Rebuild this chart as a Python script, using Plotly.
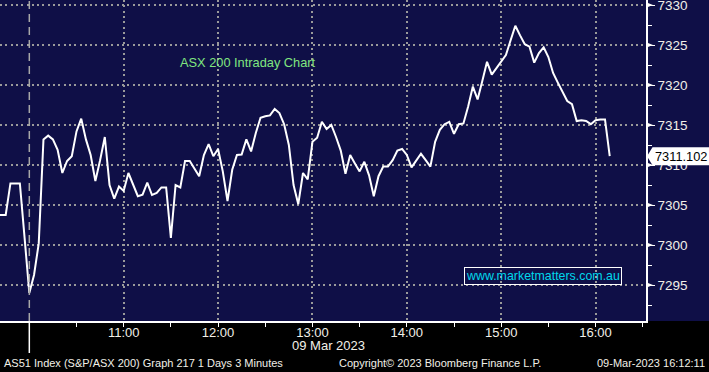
import plotly.graph_objects as go
import pandas as pd

# ---------------- data ----------------
start_time = "2023-03-09 09:39"
step = "3min"
index_values = [
    # pre-open
    7303.75, 7303.75, 7303.75, 7307.7, 7307.7, 7307.7, 7300.9,
    # 10:00 - 10:57
    7294.0, 7296.25, 7300.2, 7313.2, 7313.67, 7313.2, 7311.9, 7309.0, 7310.5, 7311.1,
    7314.2, 7315.8, 7313.2, 7311.25, 7308.0, 7310.6, 7313.5, 7307.5, 7305.8, 7307.3,
    # 11:00 - 11:57
    7306.75, 7309.0, 7307.5, 7306.1, 7306.3, 7307.8, 7306.25, 7306.5, 7307.2, 7307.2,
    7300.9, 7307.5, 7307.2, 7310.5, 7310.5, 7309.6, 7308.6, 7311.25, 7312.6, 7311.1,
    # 12:00 - 12:57
    7312.0, 7309.2, 7305.5, 7309.4, 7311.25, 7311.3, 7313.2, 7311.7, 7314.0, 7315.9,
    7316.1, 7316.2, 7317.0, 7316.5, 7315.1, 7312.5, 7307.5, 7305.1, 7309.0, 7308.2,
    # 13:00 - 13:57
    7312.9, 7313.4, 7315.4, 7314.5, 7315.0, 7313.5, 7311.8, 7308.9, 7311.25, 7310.2,
    7309.2, 7310.4, 7308.7, 7306.1, 7308.6, 7309.8, 7309.8, 7310.6, 7311.8, 7312.0,
    # 14:00 - 14:57
    7311.25, 7309.7, 7310.5, 7311.4, 7310.6, 7309.8, 7312.9, 7314.4, 7315.1, 7315.4,
    7313.9, 7315.1, 7315.2, 7317.3, 7319.8, 7318.2, 7320.5, 7322.9, 7321.3, 7322.1,
    # 15:00 - 15:57
    7322.8, 7323.75, 7325.6, 7327.4, 7326.2, 7325.1, 7324.8, 7322.8, 7324.0, 7324.7,
    7323.5, 7321.5, 7320.3, 7319.1, 7318.0, 7317.6, 7315.5, 7315.6, 7315.5, 7315.1,
    # 16:00 - 16:09
    7315.6, 7315.7, 7315.7, 7311.102,
]
times = pd.date_range(start_time, periods=len(index_values), freq=step)

hour_ticks = ["2023-03-09 11:00", "2023-03-09 12:00", "2023-03-09 13:00",
              "2023-03-09 14:00", "2023-03-09 15:00", "2023-03-09 16:00"]
hour_labels = ["11:00", "12:00", "13:00", "14:00", "15:00", "16:00"]
price_ticks = [7295, 7300, 7305, 7310, 7315, 7320, 7325, 7330]
open_time = "2023-03-09 10:00"
x_range = ["2023-03-09 09:41:22", "2023-03-09 16:32:04"]
y_range = [7290.5, 7330.625]

title_text = "ASX 200 Intraday Chart"
site_text = "www.marketmatters.com.au"
date_text = "09 Mar 2023"
footer_left = "AS51 Index (S&P/ASX 200) Graph 217 1 Days 3 Minutes"
footer_mid = "Copyright\u00a9 2023 Bloomberg Finance L.P."
footer_right = "09-Mar-2023 16:12:11"

# ---------------- styles ----------------
NAVY = "#0f0f47"
GRID = "#9a9a9a"
TXT = "#f2f0e8"
SANS = "Liberation Sans, Arial, sans-serif"
PW, PH = 646, 321  # plot area in pixels

fig = go.Figure()
fig.add_trace(go.Scatter(
    x=times, y=index_values, mode="lines",
    line=dict(color="white", width=2), hoverinfo="skip", showlegend=False,
))

shapes = [
    dict(type="rect", xref="paper", yref="paper", x0=1, x1=1.2, y0=0, y1=1,
         fillcolor=NAVY, line=dict(width=0), layer="below"),
    dict(type="line", xref="x", yref="paper", x0=open_time, x1=open_time, y0=0, y1=1,
         line=dict(color="#a8a8a8", width=1.5, dash="8px,5px")),
    dict(type="line", xref="x", yref="paper", x0=open_time, x1=open_time,
         y0=-32 / PH, y1=0, line=dict(color="white", width=1.5)),
]
for v in price_ticks:
    shapes.append(dict(type="path", xref="paper", xsizemode="pixel", xanchor=1,
                       yref="y", ysizemode="pixel", yanchor=v,
                       path="M 0,-2.8 L 7,0 L 0,2.8 Z", fillcolor="white",
                       line=dict(width=0)))
last_value = index_values[-1]
shapes.append(dict(type="path", xref="paper", xsizemode="pixel", xanchor=1,
                   yref="y", ysizemode="pixel", yanchor=last_value,
                   path="M 1,0 L 6.5,-9 L 70,-9 L 70,9 L 6.5,9 Z",
                   fillcolor="white", line=dict(width=0)))

annotations = [
    dict(text=f"{last_value:.3f}", xref="paper", x=1, xanchor="left", xshift=7,
         yref="y", y=last_value, yanchor="middle", showarrow=False,
         font=dict(family=SANS, size=12.8, color="black")),
    dict(text=title_text, xref="paper", x=178.3 / PW, xanchor="left",
         yref="paper", y=1 - 62 / PH, yanchor="middle", showarrow=False,
         font=dict(family=SANS, size=12.8, color="#80e680")),
    dict(text=site_text, xref="paper", x=543 / PW, xanchor="center",
         yref="paper", y=1 - 275.7 / PH, yanchor="middle", showarrow=False,
         bordercolor="white", borderwidth=1, borderpad=1,
         font=dict(family=SANS, size=12.4, color="#00d8ec")),
    dict(text=date_text, xref="paper", x=328 / PW, xanchor="center",
         yref="paper", y=-25 / PH, yanchor="middle", showarrow=False,
         font=dict(family=SANS, size=13, color=TXT)),
    dict(text=footer_left, xref="paper", x=2 / PW, xanchor="left",
         yref="paper", y=-42 / PH, yanchor="middle", showarrow=False,
         font=dict(family=SANS, size=11, color=TXT)),
    dict(text=footer_mid, xref="paper", x=440 / PW, xanchor="center",
         yref="paper", y=-42 / PH, yanchor="middle", showarrow=False,
         font=dict(family=SANS, size=11, color=TXT)),
    dict(text=footer_right, xref="paper", x=707 / PW, xanchor="right",
         yref="paper", y=-42 / PH, yanchor="middle", showarrow=False,
         font=dict(family=SANS, size=11, color=TXT)),
]

fig.update_layout(
    width=709, height=372, autosize=False,
    margin=dict(l=0, r=709 - PW, t=0, b=372 - PH, pad=0, autoexpand=False),
    paper_bgcolor="black", plot_bgcolor=NAVY,
    showlegend=False,
    xaxis=dict(
        type="date", range=x_range, tickmode="array", tickvals=hour_ticks,
        ticktext=hour_labels, ticks="outside", ticklen=4, tickwidth=1,
        tickcolor="white", showgrid=True, gridcolor=GRID, gridwidth=2,
        griddash="2px,3.3px", showline=True, linecolor="white", linewidth=1.5,
        zeroline=False, automargin=False, ticklabelstandoff=-5,
        tickfont=dict(family=SANS, size=13, color=TXT),
        minor=dict(ticks="outside", ticklen=4, tickwidth=1, tickcolor="white",
                   dtick=30 * 60 * 1000, tick0=open_time, showgrid=False),
        fixedrange=True,
    ),
    yaxis=dict(
        side="right", range=y_range, tickmode="array", tickvals=price_ticks,
        ticks="outside", ticklen=7, tickwidth=1, tickcolor="white",
        showgrid=True, gridcolor=GRID, gridwidth=2, griddash="2px,3.3px",
        showline=True, linecolor="white", linewidth=1.5, zeroline=False,
        automargin=False, ticklabeloverflow="allow",
        tickfont=dict(family=SANS, size=13.5, color=TXT),
        minor=dict(ticks="outside", ticklen=4, tickwidth=1, tickcolor="white",
                   dtick=5, tick0=7292.5, showgrid=False),
        fixedrange=True,
    ),
    shapes=shapes,
    annotations=annotations,
)

fig.write_html(
    "out.html",
    config={"displayModeBar": False},
    post_script="document.body.style.margin='0';document.body.style.background='black';",
)
